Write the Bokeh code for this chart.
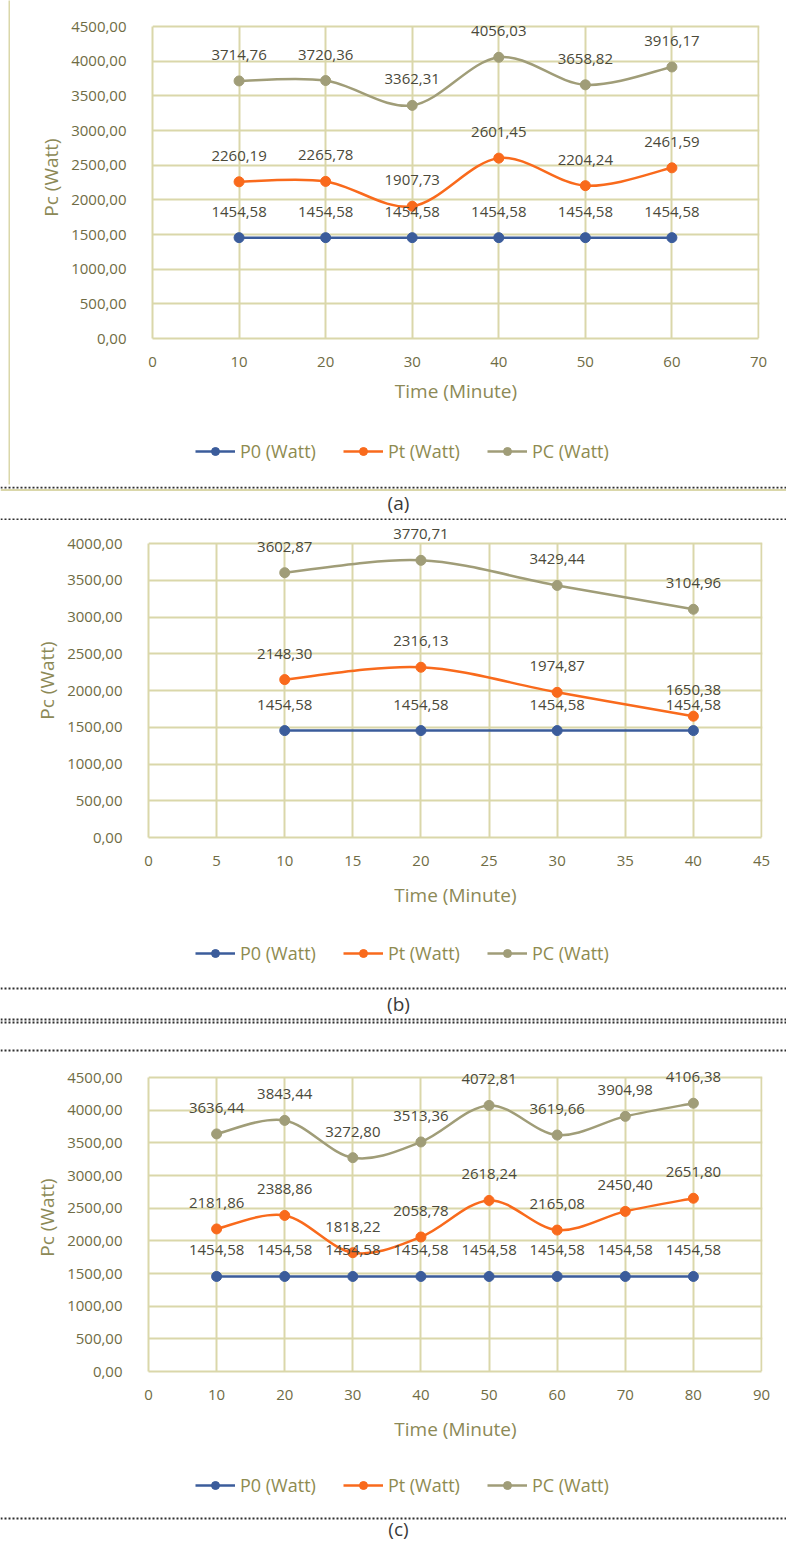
from bokeh.plotting import figure
from bokeh.layouts import column, row
from bokeh.models import (Range1d, FixedTicker, Legend, LegendItem, Span, Label,
                          CustomJSTickFormatter, ColumnDataSource)
from bokeh.core.properties import value
from bokeh.embed import file_html
from bokeh.resources import INLINE

# ---------------- data ----------------
time_a = [10, 20, 30, 40, 50, 60]
p0_a = [1454.58, 1454.58, 1454.58, 1454.58, 1454.58, 1454.58]
pt_a = [2260.19, 2265.78, 1907.73, 2601.45, 2204.24, 2461.59]
pc_a = [3714.76, 3720.36, 3362.31, 4056.03, 3658.82, 3916.17]

time_b = [10, 20, 30, 40]
p0_b = [1454.58, 1454.58, 1454.58, 1454.58]
pt_b = [2148.30, 2316.13, 1974.87, 1650.38]
pc_b = [3602.87, 3770.71, 3429.44, 3104.96]

time_c = [10, 20, 30, 40, 50, 60, 70, 80]
p0_c = [1454.58, 1454.58, 1454.58, 1454.58, 1454.58, 1454.58, 1454.58, 1454.58]
pt_c = [2181.86, 2388.86, 1818.22, 2058.78, 2618.24, 2165.08, 2450.40, 2651.80]
pc_c = [3636.44, 3843.44, 3272.80, 3513.36, 4072.81, 3619.66, 3904.98, 4106.38]

xticks_a = [0, 10, 20, 30, 40, 50, 60, 70]
xticks_b = [0, 5, 10, 15, 20, 25, 30, 35, 40, 45]
xticks_c = [0, 10, 20, 30, 40, 50, 60, 70, 80, 90]
yticks_a = [0, 500, 1000, 1500, 2000, 2500, 3000, 3500, 4000, 4500]
yticks_b = [0, 500, 1000, 1500, 2000, 2500, 3000, 3500, 4000]
yticks_c = [0, 500, 1000, 1500, 2000, 2500, 3000, 3500, 4000, 4500]

series_names = ["P0 (Watt)", "Pt (Watt)", "PC (Watt)"]
captions = ["(a)", "(b)", "(c)"]

# ---------------- style ----------------
FONT = "Open Sans"
C_P0 = "#3B5C9B"
C_PT = "#F96A1C"
C_PC = "#A09D78"
C_GRID = "#DAD7AA"
C_TICK = "#6F6C45"
C_TITLE = "#8C8956"
C_LABEL = "#4A493A"
C_LEG = "#8E8B50"
COLORS = [C_P0, C_PT, C_PC]


def fmt(v):
    return ("%.2f" % v).replace(".", ",")


def smooth(xs, ys):
    n = len(xs)
    d = dict(x0=[], y0=[], x1=[], y1=[], cx0=[], cy0=[], cx1=[], cy1=[])
    for i in range(n - 1):
        xp, yp = (xs[i - 1], ys[i - 1]) if i > 0 else (xs[i], ys[i])
        xn, yn = (xs[i + 2], ys[i + 2]) if i + 2 < n else (xs[i + 1], ys[i + 1])
        d["x0"].append(xs[i]); d["y0"].append(ys[i])
        d["x1"].append(xs[i + 1]); d["y1"].append(ys[i + 1])
        d["cx0"].append(xs[i] + (xs[i + 1] - xp) / 6.0)
        d["cy0"].append(ys[i] + (ys[i + 1] - yp) / 6.0)
        d["cx1"].append(xs[i + 1] - (xn - xs[i]) / 6.0)
        d["cy1"].append(ys[i + 1] - (yn - ys[i]) / 6.0)
    return ColumnDataSource(d)


def panel(times, p0, pt, pc, xmax, xticks, ymax, yticks, fw, fh, ext,
          bl, br, bt, bb, title_standoff):
    # frame is 1px wider (right border visible) and `ext` px taller (room for labels)
    p = figure(frame_width=fw + 1, frame_height=fh + ext, output_backend="svg",
               toolbar_location=None, frame_align=False,
               x_range=Range1d(0, xmax * (fw + 1) / fw),
               y_range=Range1d(0, ymax * (fh + ext) / fh),
               min_border_left=bl, min_border_right=br,
               min_border_top=bt, min_border_bottom=bb)
    p.outline_line_color = None
    for ax in (p.xaxis[0], p.yaxis[0]):
        ax.major_tick_line_color = None
        ax.minor_tick_line_color = None
        ax.axis_line_color = C_GRID
        ax.axis_line_width = 2
        ax.major_label_text_font = FONT
        ax.major_label_text_font_size = "15px"
        ax.major_label_text_color = C_TICK
        ax.axis_label_text_font = FONT
        ax.axis_label_text_font_size = "19px"
        ax.axis_label_text_font_style = "normal"
        ax.axis_label_text_color = C_TITLE
    p.yaxis.bounds = (0, ymax)
    p.xaxis.bounds = (0, xmax)
    p.xaxis.ticker = FixedTicker(ticks=xticks)
    p.yaxis.ticker = FixedTicker(ticks=yticks)
    p.yaxis.formatter = CustomJSTickFormatter(code="return tick.toFixed(2).replace('.', ',')")
    p.xaxis.axis_label = "Time (Minute)"
    p.yaxis.axis_label = "Pc (Watt)"
    p.xaxis.major_label_standoff = 12
    p.yaxis.major_label_standoff = 20
    p.xaxis.axis_label_standoff = title_standoff
    p.yaxis.axis_label_standoff = 4
    p.xgrid.ticker = FixedTicker(ticks=xticks)
    p.ygrid.ticker = FixedTicker(ticks=yticks)
    p.xgrid.cross_bounds = (0, ymax)
    p.xgrid.grid_line_color = C_GRID
    p.ygrid.grid_line_color = C_GRID
    p.xgrid.grid_line_width = 2
    p.ygrid.grid_line_width = 2

    p.line(times, p0, line_color=C_P0, line_width=2.5)
    p.scatter(times, p0, size=10, color=C_P0)
    p.bezier("x0", "y0", "x1", "y1", "cx0", "cy0", "cx1", "cy1",
             source=smooth(times, pt), line_color=C_PT, line_width=2.5)
    p.scatter(times, pt, size=10, color=C_PT)
    p.bezier("x0", "y0", "x1", "y1", "cx0", "cy0", "cx1", "cy1",
             source=smooth(times, pc), line_color=C_PC, line_width=2.5)
    p.scatter(times, pc, size=10, color=C_PC)

    for vals in (p0, pt, pc):
        p.text(times, vals, text=[fmt(v) for v in vals], text_align="center",
               text_baseline="middle", y_offset=-26,
               text_font=value(FONT), text_font_size="15px", text_color=C_LABEL)
    return p


def legend_fig(w, h, lx, ly, times, series):
    # the series are drawn here only to feed the legend; the ranges keep them out of view
    f = figure(frame_width=w, frame_height=h, output_backend="svg",
               toolbar_location=None, frame_align=False, min_border=0,
               x_axis_type=None, y_axis_type=None,
               x_range=Range1d(-2, -1), y_range=Range1d(-2, -1))
    f.grid.visible = False
    f.outline_line_color = None
    items = []
    for name, col, vals in zip(series_names, COLORS, series):
        rl = f.line(times, vals, line_color=col, line_width=2.5)
        rs = f.scatter(times, vals, size=8, color=col)
        items.append(LegendItem(label=name, renderers=[rl, rs]))
    legend = Legend(items=items, orientation="horizontal", location=(lx, ly),
                    glyph_width=40, glyph_height=20, label_standoff=5, spacing=27,
                    padding=0, margin=0, border_line_color=None,
                    background_fill_alpha=0, label_text_font=FONT,
                    label_text_font_size="18px", label_text_color=C_LEG)
    f.add_layout(legend)
    return f


def caption(h, text, ty, dots, tan):
    c = figure(frame_width=786, frame_height=h, output_backend="svg",
               toolbar_location=None, frame_align=False, min_border=0,
               x_axis_type=None, y_axis_type=None,
               x_range=Range1d(0, 786), y_range=Range1d(0, h))
    c.grid.visible = False
    c.outline_line_color = None
    for y in tan:
        c.add_layout(Span(location=y, dimension="width", line_color=C_GRID, line_width=2))
    for y in dots:
        c.add_layout(Span(location=y, dimension="width", line_color="#2E2E2E",
                          line_width=2, line_dash="2 2"))
    c.add_layout(Label(x=398, y=ty, text=text, text_align="center",
                       text_baseline="middle", text_font=FONT,
                       text_font_size="19px", text_color="#3A3A3A"))
    return c


pa = panel(time_a, p0_a, pt_a, pc_a, 70, xticks_a, 4500, yticks_a, 606, 312, 10,
           142, 27, 16, 82, 8)
pb = panel(time_b, p0_b, pt_b, pc_b, 45, xticks_b, 4000, yticks_b, 613, 294, 20,
           148, 24, 3, 78, 13)
pc_ = panel(time_c, p0_c, pt_c, pc_c, 90, xticks_c, 4500, yticks_c, 613, 294, 14,
            148, 24, 7, 79, 13)

leg_a = legend_fig(776, 66, 185, 23, time_a, [p0_a, pt_a, pc_a])
leg_b = legend_fig(786, 71, 195, 21, time_b, [p0_b, pt_b, pc_b])
leg_c = legend_fig(786, 62, 195, 15, time_c, [p0_c, pt_c, pc_c])

edge = figure(frame_width=2, frame_height=484, output_backend="svg",
              toolbar_location=None, frame_align=False,
              min_border_left=8, min_border_right=0, min_border_top=0,
              min_border_bottom=2, x_axis_type=None, y_axis_type=None,
              background_fill_color=C_GRID, x_range=Range1d(0, 1), y_range=Range1d(0, 1))
edge.grid.visible = False
edge.outline_line_color = None

cap_a = caption(34, captions[0], 18, [33, 1], [30.5])
cap_b = caption(70, captions[1], 53, [68, 37, 34, 6], [])
cap_c = caption(31, captions[2], 15, [25], [])

layout = column(row(edge, column(pa, leg_a)), cap_a, pb, leg_b, cap_b, pc_, leg_c, cap_c)

open("out.html", "w").write(file_html(layout, INLINE))
